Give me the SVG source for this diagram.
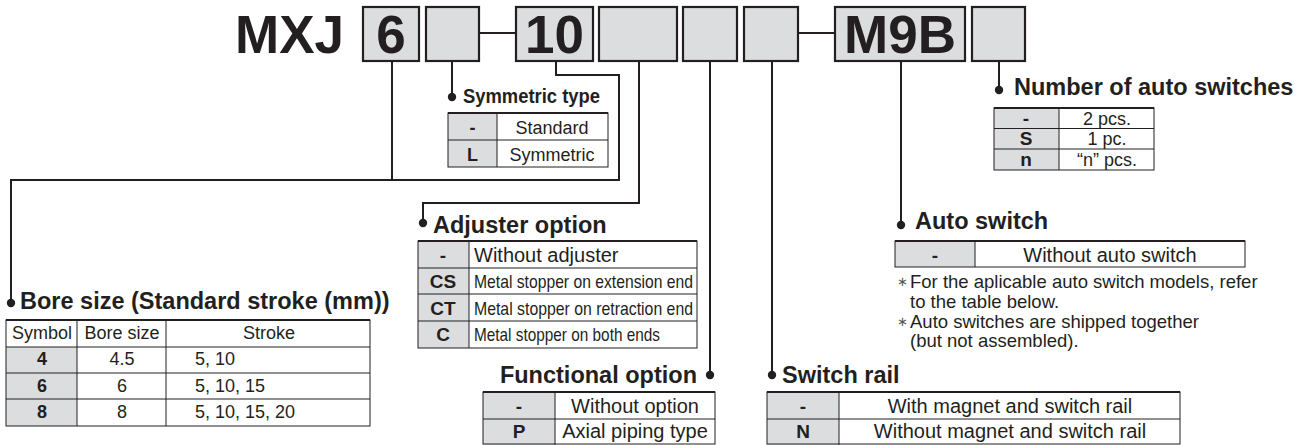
<svg xmlns="http://www.w3.org/2000/svg" width="1315" height="445" viewBox="0 0 1315 445">
<style>
text{font-family:"Liberation Sans",Arial,sans-serif;fill:#231f20}
.big{font-size:53px;font-weight:bold;text-anchor:middle}
.box{fill:#dcdddf;stroke:#231f20;stroke-width:2.2}
.title{font-size:23.5px;font-weight:bold}
.c{font-size:18px}
.cb{font-size:18px;font-weight:bold;text-anchor:middle}
.m{text-anchor:middle}
.conn{fill:none;stroke:#231f20;stroke-width:2}
.dot{fill:#231f20}
.gray{fill:#dcdddf}
.white{fill:#fff}
.grid{stroke:#231f20;stroke-width:1;fill:none}
.topb{stroke:#231f20;stroke-width:2.2}
.note{font-size:18.5px}
.ast{font-size:13px;fill:#555}
</style>

<g id="header">
  <text x="235" y="53" style="font-size:53px;font-weight:bold">MXJ</text>
  <rect class="box" x="363" y="7" width="56" height="54"/>
  <text class="big" x="391" y="53">6</text>
  <rect class="box" x="426" y="7" width="53" height="54"/>
  <line class="conn" x1="479" y1="33" x2="516" y2="33"/>
  <rect class="box" x="516" y="7" width="77" height="54"/>
  <text class="big" x="554.5" y="53">10</text>
  <rect class="box" x="599" y="7" width="78" height="54"/>
  <rect class="box" x="683" y="7" width="54" height="54"/>
  <rect class="box" x="744" y="7" width="54" height="54"/>
  <line class="conn" x1="798" y1="33" x2="835" y2="33"/>
  <rect class="box" x="835" y="7" width="130" height="54"/>
  <text class="big" x="900" y="53">M9B</text>
  <rect class="box" x="972" y="7" width="53" height="54"/>
</g>

<g id="connectors">
  <polyline class="conn" points="392,62 392,180 11,180 11,303"/>
  <polyline class="conn" points="452,62 452,97"/>
  <polyline class="conn" points="556,62 556,75 619,75 619,180 392,180"/>
  <polyline class="conn" points="639,62 639,203 423,203 423,223"/>
  <polyline class="conn" points="710,62 710,375"/>
  <polyline class="conn" points="772,62 772,375"/>
  <polyline class="conn" points="901,62 901,225"/>
  <polyline class="conn" points="999,62 999,90"/>
  <circle class="dot" cx="11" cy="303" r="4.2"/>
  <circle class="dot" cx="452" cy="97" r="4.2"/>
  <circle class="dot" cx="423" cy="223" r="4.2"/>
  <circle class="dot" cx="710" cy="375" r="4.2"/>
  <circle class="dot" cx="772" cy="375" r="4.2"/>
  <circle class="dot" cx="901" cy="225" r="4.2"/>
  <circle class="dot" cx="999" cy="90" r="4.2"/>
</g>

<g id="symmetric-type">
  <text x="463" y="103" style="font-size:21px;font-weight:bold" textLength="137" lengthAdjust="spacingAndGlyphs">Symmetric type</text>
  <rect class="white" x="448" y="113" width="160" height="54"/>
  <rect class="gray" x="448" y="113" width="49" height="54"/>
  <rect class="grid" x="448" y="113" width="160" height="54"/>
  <line class="grid" x1="448" y1="140" x2="608" y2="140"/>
  <line class="grid" x1="497" y1="113" x2="497" y2="167"/>
  <line class="topb" x1="448" y1="113" x2="608" y2="113"/>
  <text class="cb" x="472.5" y="134">-</text>
  <text class="c m" x="552" y="134">Standard</text>
  <text class="cb" x="472.5" y="161">L</text>
  <text class="c m" x="552" y="161">Symmetric</text>
</g>

<g id="bore-size">
  <text class="title" x="20" y="309">Bore size (Standard stroke (mm))</text>
  <rect class="white" x="6" y="320" width="364" height="106"/>
  <rect class="gray" x="6" y="347" width="71" height="79"/>
  <rect class="grid" x="6" y="320" width="364" height="106"/>
  <line class="grid" x1="6" y1="347" x2="370" y2="347"/>
  <line class="grid" x1="6" y1="373" x2="370" y2="373"/>
  <line class="grid" x1="6" y1="399" x2="370" y2="399"/>
  <line class="grid" x1="77" y1="320" x2="77" y2="426"/>
  <line class="grid" x1="166" y1="320" x2="166" y2="426"/>
  <line class="topb" x1="6" y1="320" x2="370" y2="320"/>
  <text class="c m" x="42" y="339">Symbol</text>
  <text class="c m" x="122" y="339">Bore size</text>
  <text class="c m" x="269" y="339">Stroke</text>
  <text class="cb" x="42" y="365">4</text>
  <text class="c m" x="122" y="365">4.5</text>
  <text class="c" x="195" y="365">5, 10</text>
  <text class="cb" x="42" y="392">6</text>
  <text class="c m" x="122" y="392">6</text>
  <text class="c" x="195" y="392">5, 10, 15</text>
  <text class="cb" x="42" y="418">8</text>
  <text class="c m" x="122" y="418">8</text>
  <text class="c" x="195" y="418">5, 10, 15, 20</text>
</g>

<g id="adjuster-option">
  <text class="title" x="433" y="233">Adjuster option</text>
  <rect class="white" x="418" y="241" width="279" height="107"/>
  <rect class="gray" x="418" y="241" width="51" height="107"/>
  <rect class="grid" x="418" y="241" width="279" height="107"/>
  <line class="grid" x1="418" y1="268" x2="697" y2="268"/>
  <line class="grid" x1="418" y1="294" x2="697" y2="294"/>
  <line class="grid" x1="418" y1="321" x2="697" y2="321"/>
  <line class="grid" x1="469" y1="241" x2="469" y2="348"/>
  <line class="topb" x1="418" y1="241" x2="697" y2="241"/>
  <text class="cb" x="443" y="262" style="font-size:19px">-</text>
  <text x="474" y="262" style="font-size:20px">Without adjuster</text>
  <text class="cb" x="443" y="288" style="font-size:19px">CS</text>
  <text x="474" y="288" style="font-size:19px" textLength="219" lengthAdjust="spacingAndGlyphs">Metal stopper on extension end</text>
  <text class="cb" x="443" y="315" style="font-size:19px">CT</text>
  <text x="474" y="315" style="font-size:19px" textLength="219" lengthAdjust="spacingAndGlyphs">Metal stopper on retraction end</text>
  <text class="cb" x="443" y="341" style="font-size:19px">C</text>
  <text x="474" y="341" style="font-size:19px" textLength="186" lengthAdjust="spacingAndGlyphs">Metal stopper on both ends</text>
</g>

<g id="functional-option">
  <text class="title" x="697" y="383" text-anchor="end">Functional option</text>
  <rect class="white" x="483" y="392" width="232" height="53"/>
  <rect class="gray" x="483" y="392" width="72" height="53"/>
  <rect class="grid" x="483" y="392" width="232" height="52"/>
  <line class="grid" x1="483" y1="419" x2="715" y2="419"/>
  <line class="grid" x1="555" y1="392" x2="555" y2="445"/>
  <line class="topb" x1="483" y1="392" x2="715" y2="392"/>
  <text class="cb" x="519" y="413" style="font-size:19px">-</text>
  <text class="m" x="635" y="413" style="font-size:20px">Without option</text>
  <text class="cb" x="519" y="438" style="font-size:19px">P</text>
  <text class="m" x="635" y="438" style="font-size:20px">Axial piping type</text>
</g>

<g id="switch-rail">
  <text class="title" x="782" y="383">Switch rail</text>
  <rect class="white" x="767" y="392" width="413" height="53"/>
  <rect class="gray" x="767" y="392" width="72" height="53"/>
  <rect class="grid" x="767" y="392" width="413" height="52"/>
  <line class="grid" x1="767" y1="419" x2="1180" y2="419"/>
  <line class="grid" x1="839" y1="392" x2="839" y2="445"/>
  <line class="topb" x1="767" y1="392" x2="1180" y2="392"/>
  <text class="cb" x="803" y="413" style="font-size:19px">-</text>
  <text class="m" x="1010" y="413" style="font-size:20px">With magnet and switch rail</text>
  <text class="cb" x="803" y="438" style="font-size:19px">N</text>
  <text class="m" x="1010" y="438" style="font-size:20px">Without magnet and switch rail</text>
</g>

<g id="auto-switch">
  <text class="title" x="915" y="229">Auto switch</text>
  <rect class="white" x="895" y="241" width="350" height="26"/>
  <rect class="gray" x="895" y="241" width="80" height="26"/>
  <rect class="grid" x="895" y="241" width="350" height="26"/>
  <line class="grid" x1="975" y1="241" x2="975" y2="267"/>
  <line class="topb" x1="895" y1="241" x2="1245" y2="241"/>
  <text class="cb" x="935" y="262" style="font-size:19px">-</text>
  <text class="m" x="1110" y="262" style="font-size:20px">Without auto switch</text>
  <text class="ast" x="897" y="286">∗</text>
  <text class="note" x="910" y="288">For the aplicable auto switch models, refer</text>
  <text class="note" x="910" y="308">to the table below.</text>
  <text class="ast" x="897" y="326">∗</text>
  <text class="note" x="910" y="328">Auto switches are shipped together</text>
  <text class="note" x="910" y="347">(but not assembled).</text>
</g>

<g id="number-of-auto-switches">
  <text class="title" x="1014" y="95">Number of auto switches</text>
  <rect class="white" x="994" y="108" width="160" height="62"/>
  <rect class="gray" x="994" y="108" width="65" height="62"/>
  <rect class="grid" x="994" y="108" width="160" height="62"/>
  <line class="grid" x1="994" y1="128.5" x2="1154" y2="128.5"/>
  <line class="grid" x1="994" y1="149" x2="1154" y2="149"/>
  <line class="grid" x1="1059" y1="108" x2="1059" y2="170"/>
  <line class="topb" x1="994" y1="108" x2="1154" y2="108"/>
  <text class="cb" x="1026" y="125" style="font-size:19px">-</text>
  <text class="c m" x="1107" y="125">2 pcs.</text>
  <text class="cb" x="1026" y="145" style="font-size:19px">S</text>
  <text class="c m" x="1107" y="145">1 pc.</text>
  <text class="cb" x="1026" y="166" style="font-size:19px">n</text>
  <text class="c m" x="1107" y="166">“n” pcs.</text>
</g>
</svg>
